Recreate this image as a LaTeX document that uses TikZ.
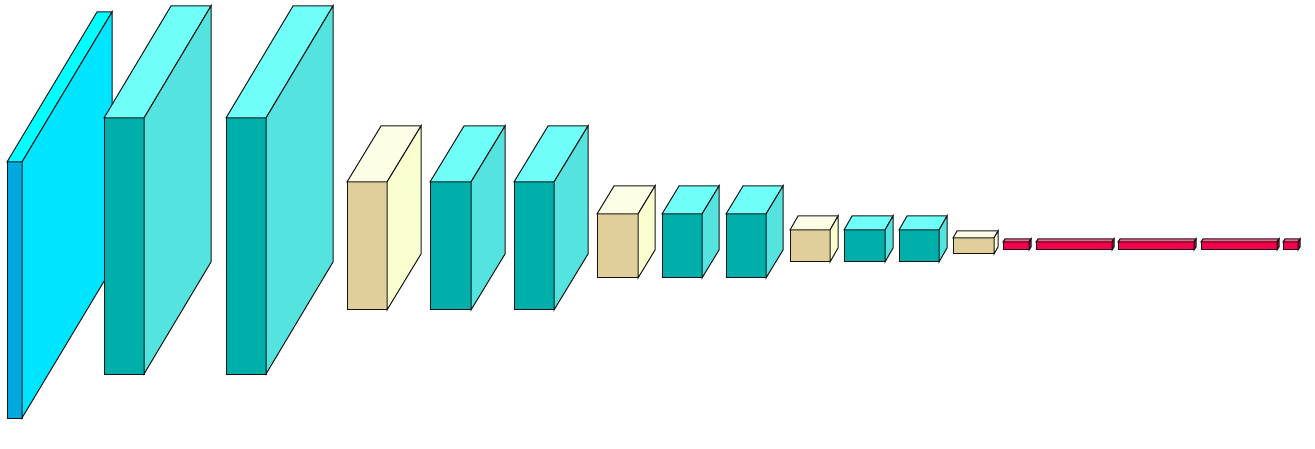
\documentclass[tikz,border=0pt]{standalone}
\usepackage{tikz}

\definecolor{inputFront}{HTML}{00A8E0}
\definecolor{inputSide}{HTML}{00E5FF}
\definecolor{inputTop}{HTML}{00FFFF}
\definecolor{convFront}{HTML}{00AFAA}
\definecolor{convSide}{HTML}{55E3DF}
\definecolor{convTop}{HTML}{70FFF8}
\definecolor{poolFront}{HTML}{E0CF9A}
\definecolor{poolSide}{HTML}{FAFFD0}
\definecolor{poolTop}{HTML}{FCFEE6}
\definecolor{denseFront}{HTML}{F5004A}
\definecolor{denseSide}{HTML}{B8003C}
\definecolor{denseTop}{HTML}{FF5C85}

\tikzset{every picture/.style={line width=0.75pt}}
\tikzset{boxline/.style={draw={rgb, 255:red, 20; green, 20; blue, 20}, line join=miter}}

% #1 layer kind, front face (#2,#3)-(#4,#5), depth shift (#6,#7)
\newcommand{\layerbox}[7]{%
  \draw [boxline, fill=#1Front] (#2,#3) -- (#4,#3) -- (#4,#5) -- (#2,#5) -- cycle ;
  \draw [boxline, fill=#1Top] (#2,#3) -- ({#2+#6},{#3-#7}) -- ({#4+#6},{#3-#7}) -- (#4,#3) -- cycle ;
  \draw [boxline, fill=#1Side] (#4,#3) -- ({#4+#6},{#3-#7}) -- ({#4+#6},{#5-#7}) -- (#4,#5) -- cycle ;
}

\begin{document}
\begin{tikzpicture}[x=0.75pt,y=0.75pt,yscale=-1,xscale=1]
\useasboundingbox (0,0) rectangle (1315,449);

%Shape: Cube [id:input]
\layerbox{input}{7}{162}{22}{418}{90}{150}
%Shape: Cube [id:conv1]
\layerbox{conv}{104}{118}{144}{374}{67}{112}
%Shape: Cube [id:conv2]
\layerbox{conv}{226}{118}{266}{374}{67}{112}
%Shape: Cube [id:pool1]
\layerbox{pool}{347}{182}{387}{310}{34}{56}
%Shape: Cube [id:conv3]
\layerbox{conv}{430}{182}{471}{310}{34}{56}
%Shape: Cube [id:conv4]
\layerbox{conv}{514}{182}{554}{310}{34}{56}
%Shape: Cube [id:pool2]
\layerbox{pool}{597}{214}{638}{278}{17}{28}
%Shape: Cube [id:conv5]
\layerbox{conv}{662}{214}{702}{278}{17}{28}
%Shape: Cube [id:conv6]
\layerbox{conv}{726}{214}{766}{278}{17}{28}
%Shape: Cube [id:pool3]
\layerbox{pool}{790}{230}{830}{262}{8}{14}
%Shape: Cube [id:conv7]
\layerbox{conv}{844}{230}{885}{262}{8}{14}
%Shape: Cube [id:conv8]
\layerbox{conv}{899}{230}{939}{262}{8}{14}
%Shape: Cube [id:pool4]
\layerbox{pool}{953}{238}{994}{254}{4}{7}
%Shape: Cube [id:flat]
\layerbox{dense}{1003}{242}{1029}{250}{2}{3}
%Shape: Cube [id:dense1]
\layerbox{dense}{1036}{242}{1112}{250}{2}{3}
%Shape: Cube [id:dense2]
\layerbox{dense}{1118}{242}{1194}{250}{2}{3}
%Shape: Cube [id:dense3]
\layerbox{dense}{1201}{242}{1277}{250}{2}{3}
%Shape: Cube [id:out]
\layerbox{dense}{1283}{242}{1298}{250}{2}{3}

\end{tikzpicture}
\end{document}
